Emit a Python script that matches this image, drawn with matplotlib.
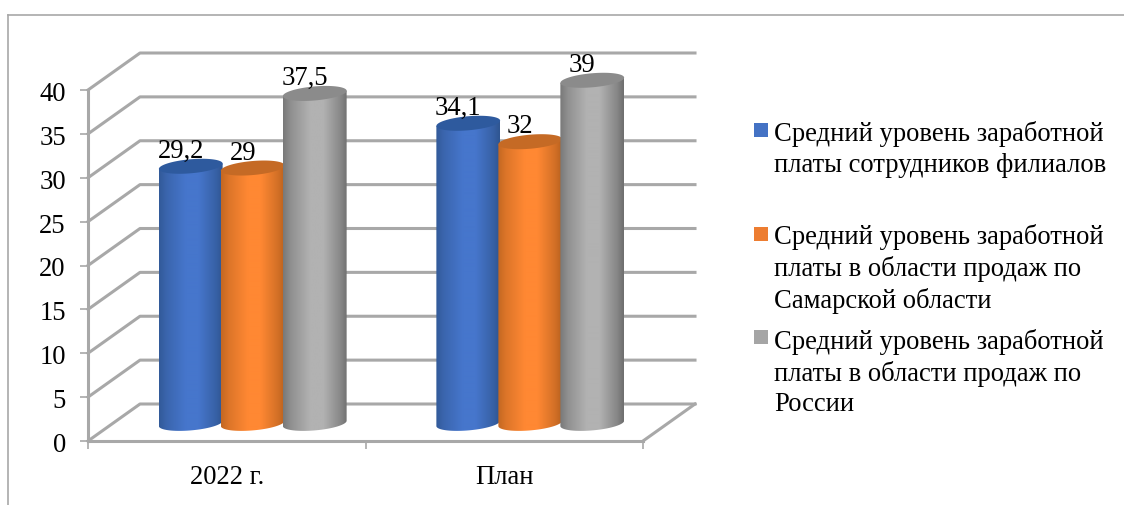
#!/usr/bin/env python3
import numpy as np
import matplotlib
matplotlib.use("Agg")
import matplotlib.pyplot as plt
from matplotlib.patches import PathPatch, Polygon, Rectangle
from matplotlib.path import Path
from matplotlib.transforms import ScaledTranslation

plt.rcParams["font.family"] = ["Liberation Serif", "DejaVu Serif"]

categories = ["2022 г.", "План"]
series_names = [
    "Средний уровень заработной\nплаты сотрудников филиалов",
    "Средний уровень заработной\nплаты в области продаж по\nСамарской области",
    "Средний уровень заработной\nплаты в области продаж по\nРоссии",
]
values_2022 = [29.2, 29, 37.5]
values_plan = [34.1, 32, 39]
value_labels_2022 = ["29,2", "29", "37,5"]
value_labels_plan = ["34,1", "32", "39"]
y_ticks = [0, 5, 10, 15, 20, 25, 30, 35, 40]

# dark edge, light middle, cap
blue = ("#2F5590", "#4676CC", "#2E5A9E")
orange = ("#B9621F", "#FF8833", "#C56A25")
gray = ("#6E6E6E", "#B2B2B2", "#8B8B8B")
colors = [blue, orange, gray]
key_colors = ["#4472C4", "#ED7D31", "#A5A5A5"]

W, H = 1124, 505
LINE = "#A8A8A8"
FONT = 19.2
DEPTH_PX = (52, 37)
BAR_STEP = 62
HALF_W, HALF_H, TILT = 32, 7, np.radians(5)


def hex_rgb(c):
    return np.array(matplotlib.colors.to_rgb(c))


def ellipse_points(cx, cy, sx, sy, t):
    # tilted ellipse, sized in pixels, returned in data coordinates
    ex = HALF_W * np.cos(t)
    ey = HALF_H * np.sin(t)
    px = ex * np.cos(TILT) - ey * np.sin(TILT)
    py = ex * np.sin(TILT) + ey * np.cos(TILT)
    return np.column_stack([cx + px / sx, cy + py / sy])


def draw_cylinder(ax, fig, cx, base, top, cols, sx, sy, z):
    arc = ellipse_points(cx, base, sx, sy, np.linspace(np.pi, 2 * np.pi, 60))
    upper = ellipse_points(cx, top, sx, sy, np.array([0.0, np.pi]))
    body = Path(np.vstack([upper[1], arc, upper[0], upper[1]]), closed=True)
    patch = PathPatch(body, transform=ax.transData, fc="none", ec="none", clip_on=False)
    ax.add_patch(patch)

    # horizontal shading across the cylinder
    stops = np.linspace(0, 1, 128)
    shade = np.interp(stops, [0, 0.12, 0.42, 0.62, 0.9, 1], [0.15, 0.5, 1, 1, 0.35, 0])[:, None]
    dark, light = hex_rgb(cols[0]), hex_rgb(cols[1])
    grad = (dark + (light - dark) * shade)[None, :, :]
    half = HALF_W / sx
    im = ax.imshow(grad, extent=(cx - half, cx + half, base - 2, top + 2), aspect="auto",
                   zorder=z, interpolation="bilinear", origin="lower")
    im.set_clip_path(patch)
    im.set_clip_box(fig.bbox)

    cap = ellipse_points(cx, top, sx, sy, np.linspace(0, 2 * np.pi, 90))
    ax.add_patch(Polygon(cap, closed=True, fc=cols[2], ec="none", zorder=z + 0.1, clip_on=False))


def main():
    fig = plt.figure(figsize=(W / 100, H / 100), dpi=100)
    ax = fig.add_axes([88 / W, (H - 441) / H, 555 / W, 351 / H])
    ax.set_facecolor("none")
    n_cat = len(categories)
    ax.set_xlim(0, n_cat)
    ax.set_ylim(0, y_ticks[-1])
    sx = 555 / n_cat
    sy = 351 / y_ticks[-1]
    dx, dy = DEPTH_PX[0] / sx, DEPTH_PX[1] / sy

    # outer chart frame, open at the right and the bottom
    fig.add_artist(plt.Line2D([8 / W, 8 / W], [0, 1 - 14.5 / H], color=LINE, lw=1.2))
    fig.add_artist(plt.Line2D([8 / W, 1], [1 - 14.5 / H, 1 - 14.5 / H], color=LINE, lw=1.2))

    # side wall diagonals and back wall lines
    for v in y_ticks:
        ax.plot([0, dx, n_cat + dx], [v, v + dy, v + dy], color=LINE, lw=2.2,
                solid_joinstyle="round", clip_on=False, zorder=1)
    ax.plot([n_cat, n_cat + dx], [0, dy], color=LINE, lw=2.2, clip_on=False, zorder=1)

    for i, vals in enumerate([values_2022, values_plan]):
        labels = [value_labels_2022, value_labels_plan][i]
        for j, v in enumerate(vals):
            cx = i + 0.5 + dx / 2 + (j - 1) * BAR_STEP / sx
            draw_cylinder(ax, fig, cx, dy / 2 - 0.1, v + dy / 2, colors[j], sx, sy, 3 + j)
            ax.annotate(labels[j], (cx, v + dy / 2), xytext=(-10, 15), textcoords="offset pixels",
                        ha="center", va="center", fontsize=FONT, color="black",
                        annotation_clip=False, zorder=10)

    ax.set_xlim(0, n_cat)
    ax.set_ylim(0, y_ticks[-1])
    for s in ("top", "right"):
        ax.spines[s].set_visible(False)
    for s in ("left", "bottom"):
        ax.spines[s].set_color(LINE)
        ax.spines[s].set_linewidth(2.2)
        ax.spines[s].set_zorder(2)
    ax.set_yticks(y_ticks)
    ax.set_xticks(range(n_cat + 1))
    ax.set_xticklabels([])
    ax.set_xticks([i + 0.5 for i in range(n_cat)], categories, minor=True)
    ax.tick_params(axis="y", length=6, width=1.2, color=LINE, labelsize=FONT, pad=10)
    ax.tick_params(axis="x", which="major", length=6, width=1.2, color=LINE)
    ax.tick_params(axis="x", which="minor", length=0, labelsize=FONT, pad=17)
    # nudge the value axis numbers down a little
    nudge = ScaledTranslation(0, -1.5 / 100, fig.dpi_scale_trans)
    for lab in ax.get_yticklabels():
        lab.set_transform(lab.get_transform() + nudge)

    # legend with hand placed keys, the entries are unevenly spaced
    key_rows = [130, 234, 337]
    text_tops = [121, 224, 329]
    for name, col, row, top in zip(series_names, key_colors, key_rows, text_tops):
        fig.add_artist(Rectangle((754 / W, 1 - (row + 7) / H), 14 / W, 14 / H, fc=col, ec="none",
                                 transform=fig.transFigure))
        fig.text(774 / W, 1 - top / H, name, ha="left", va="top", fontsize=FONT,
                 linespacing=1.29, color="black")

    fig.savefig("out.png", dpi=100)


if __name__ == "__main__":
    main()
